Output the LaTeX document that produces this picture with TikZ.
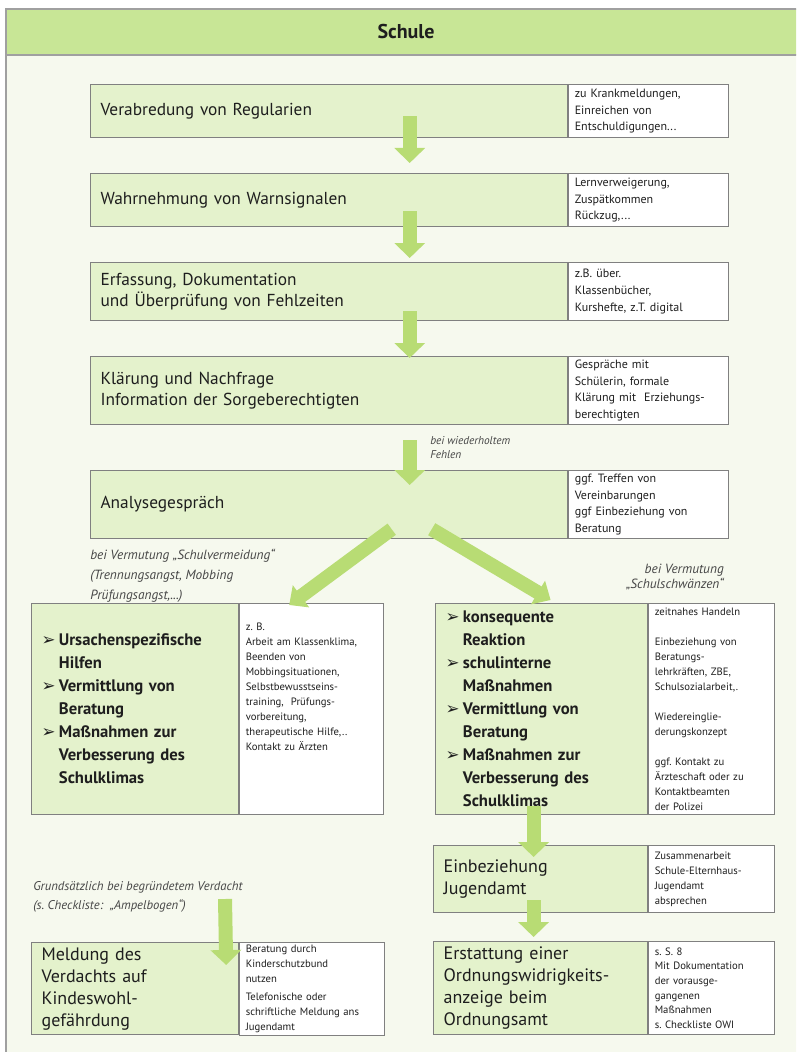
\documentclass[tikz,border=0pt]{standalone}
\usepackage{fontspec}
\setmainfont{PT Sans}
\newfontfamily\dejavu{DejaVu Sans}
\usetikzlibrary{arrows.meta,calc}
\frenchspacing
\definecolor{headgreen}{RGB}{200,230,150}
\definecolor{boxgreen}{RGB}{228,242,204}
\definecolor{bggreen}{RGB}{246,249,238}
\definecolor{arrowgreen}{RGB}{184,220,116}
\definecolor{boxgray}{RGB}{128,128,128}
\definecolor{framegray}{RGB}{160,160,160}
\definecolor{hintgray}{RGB}{70,70,70}
\definecolor{textdark}{RGB}{30,30,30}
\newcommand{\bul}{\makebox[13pt][l]{\dejavu\bfseries\fontsize{12.5}{12.5}\selectfont ➢}}
\newcommand{\ind}{\hspace*{13pt}}
\tikzset{
  stepbox/.style={draw=boxgray, fill=boxgreen, line width=.9pt, anchor=north west, inner xsep=7.5pt, inner ysep=2pt, align=left, text=textdark, font=\fontsize{13}{16}\selectfont},
  bulbox/.style={stepbox, font=\bfseries\fontsize{12.5}{17.25}\selectfont},
  notebox/.style={draw=boxgray, fill=white, line width=.9pt, anchor=north west, inner xsep=4.5pt, inner ysep=2pt, align=left, text=textdark, font=\fontsize{9}{12.5}\selectfont},
  smallnote/.style={notebox, font=\fontsize{8}{11.25}\selectfont},
  flow/.style={draw=arrowgreen, line width=10.5pt, -{Triangle[length=11.25pt,width=22.5pt]}},
  diag/.style={flow, -{Triangle[length=11pt,width=20pt]}},
  hint/.style={text=hintgray, font=\itshape\fontsize{10}{15}\selectfont, align=left, inner sep=0pt, anchor=north west},
}

\begin{document}
\begin{tikzpicture}[x=0.75pt,y=-0.75pt]
  \clip (0,0) rectangle (796,1052);
  %\draw[step=50,gray,very thin] (0,0) grid (796,1052);
  \fill[bggreen] (6,55) rectangle (810,1070);
  \draw[framegray,line width=.9pt,fill=headgreen] (6,9) rectangle (810,55);
  \draw[framegray,line width=.9pt] (6,55) -- (6,1070);
  \node[font=\bfseries\fontsize{15}{18}\selectfont,text=textdark] (title) at (406,32) {Schule};

  % main column
  \node[stepbox, text width=342.75pt, minimum height=39.75pt] (reg) at (90,84) {Verabredung von Regularien};
  \node[notebox, text width=111pt, minimum height=39.75pt] (regnote) at (reg.north east) {zu Krankmeldungen,\\Einreichen von\\Entschuldigungen...};
  \node[stepbox, text width=342.75pt, minimum height=39.75pt] (warn) at (90,173) {Wahrnehmung von Warnsignalen};
  \node[notebox, text width=111pt, minimum height=39.75pt] (warnnote) at (warn.north east) {Lernverweigerung,\\Zuspätkommen\\Rückzug,...};
  \node[stepbox, text width=342.75pt, minimum height=43.5pt] (erf) at (90,262) {Erfassung, Dokumentation\\und Überprüfung von Fehlzeiten};
  \node[notebox, text width=111pt, minimum height=43.5pt] (erfnote) at (erf.north east) {z.B. über.\\Klassenbücher,\\Kurshefte, z.T. digital};
  \node[stepbox, text width=342.75pt, minimum height=51pt] (klar) at (90,356) {Klärung und Nachfrage\\Information der Sorgeberechtigten};
  \node[notebox, text width=111pt, minimum height=51pt] (klarnote) at (klar.north east) {Gespräche mit\\Schülerin, formale\\Klärung mit~ Erziehungs-\\berechtigten};
  \node[stepbox, text width=342.75pt, minimum height=51pt] (ana) at (90,470) {Analysegespräch};
  \node[notebox, text width=111pt, minimum height=51pt] (ananote) at (ana.north east) {ggf. Treffen von\\Vereinbarungen\\ggf Einbeziehung von\\Beratung};
  \coordinate (regmid) at ($(reg.south west)!.5!(regnote.south east)$);

  % two branches
  \node[bulbox, text width=140.25pt, minimum height=158.25pt] (urs) at (31,603) {\bul Ursachenspezifische\\\ind Hilfen\\\bul Vermittlung von\\\ind Beratung\\\bul Maßnahmen zur\\\ind Verbesserung des\\\ind Schulklimas};
  \node[smallnote, text width=99pt, minimum height=158.25pt] (ursnote) at (urs.north east) {z. B.\\Arbeit am Klassenklima,\\Beenden von\\Mobbingsituationen,\\Selbstbewusstseins-\\training,~ Prüfungs-\\vorbereitung,\\therapeutische Hilfe,..\\Kontakt zu Ärzten\par\vspace*{33pt}};
  \node[bulbox, text width=144pt, minimum height=158.25pt] (schul) at (435,603) {\bul konsequente\\\ind Reaktion\\\bul schulinterne\\\ind Maßnahmen\\\bul Vermittlung von\\\ind Beratung\\\bul Maßnahmen zur\\\ind Verbesserung des\\\ind Schulklimas};
  \node[smallnote, text width=85.5pt, minimum height=158.25pt] (schulnote) at (schul.north east) {zeitnahes Handeln\\[11.25pt]Einbeziehung von\\Beratungs-\\lehrkräften, ZBE,\\Schulsozialarbeit,.\\[11.25pt]Wiedereinglie-\\derungskonzept\\[11.25pt]ggf. Kontakt zu\\Ärzteschaft oder zu\\Kontaktbeamten\\der Polizei};
  \node[stepbox, text width=145.5pt, minimum height=50.25pt, font=\fontsize{13.5}{16.5}\selectfont] (einb) at (433,845) {Einbeziehung\\Jugendamt};
  \node[smallnote, text width=85.5pt, minimum height=50.25pt] (einbnote) at (einb.north east) {Zusammenarbeit\\Schule-Elternhaus-\\Jugendamt\\absprechen};
  \node[stepbox, text width=145.5pt, minimum height=69.75pt, font=\fontsize{13.5}{16.5}\selectfont] (erst) at (433,941) {Erstattung einer\\Ordnungswidrigkeits-\\anzeige beim\\Ordnungsamt};
  \node[smallnote, text width=85.5pt, minimum height=69.75pt, font=\fontsize{8}{11}\selectfont] (erstnote) at (erst.north east) {s. S. 8\\Mit Dokumentation\\der vorausge-\\gangenen\\Maßnahmen\\s. Checkliste OWI};
  \node[stepbox, text width=140.25pt, minimum height=69pt, font=\fontsize{13.5}{16.5}\selectfont] (meld) at (31,942) {Meldung des\\Verdachts auf\\Kindeswohl-\\gefährdung};
  \node[smallnote, text width=99.75pt, minimum height=69pt] (meldnote) at (meld.north east) {Beratung durch\\Kinderschutzbund\\nutzen\\[2pt]Telefonische oder\\schriftliche Meldung ans\\Jugendamt};

  % hints
  \node[hint, font=\itshape\fontsize{8.5}{10.5}\selectfont] (wdh) at (430,436) {bei wiederholtem\\Fehlen};
  \node[hint] (vermeid) at (90,549) {bei Vermutung „Schulvermeidung“\\(Trennungsangst, Mobbing\\Prüfungsangst,...)};
  \node[hint, anchor=north east, align=right, font=\itshape\fontsize{10}{11.25}\selectfont] (schwaenz) at (724,564) {bei Vermutung\\„Schulschwänzen“};
  \node[hint, font=\itshape\fontsize{9.5}{14.25}\selectfont] (grund) at (33,881) {Grundsätzlich bei begründetem Verdacht\\(s. Checkliste:~ „Ampelbogen“)};
  \coordinate (grundtop) at (225,899);

  % arrows
  \draw[flow] ([yshift=16.5pt]regmid) -- ([yshift=7.5pt]regmid |- warn.north);
  \draw[flow] ([yshift=12pt]regmid |- warn.south) -- ([yshift=3pt]regmid |- erf.north);
  \draw[flow] ([yshift=7.5pt]regmid |- erf.south) -- ([yshift=-1.5pt]regmid |- klar.north);
  \draw[flow] ([yshift=-11.25pt]regmid |- klar.south) -- ([yshift=-11.25pt]regmid |- ana.north);
  \draw[diag] ([xshift=-13.5pt,yshift=7.5pt]regmid |- ana.south) -- ([xshift=37.5pt,yshift=-1.5pt]ursnote.north west);
  \draw[diag] ([xshift=16.5pt,yshift=7.5pt]regmid |- ana.south) -- ([xshift=6.75pt,yshift=2.25pt]schul.north);
  \draw[flow] ([xshift=-6pt,yshift=6.75pt]schul.south) -- ([xshift=-5.25pt,yshift=-9pt]einb.north);
  \draw[flow] ([xshift=-5.25pt,yshift=9.75pt]einb.south) -- ([xshift=-5.25pt,yshift=3pt]erst.north);
  \draw[flow] (grundtop) -- ([xshift=-9.75pt,yshift=-17.25pt]meld.north east);
\end{tikzpicture}
\end{document}
